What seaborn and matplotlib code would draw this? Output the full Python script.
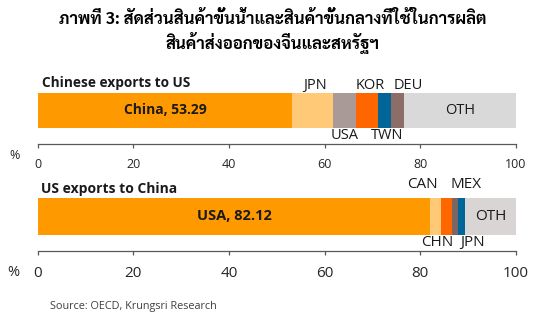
import matplotlib
matplotlib.use("Agg")
import matplotlib.pyplot as plt
import pandas as pd
import seaborn as sns

# Share of upstream / intermediate inputs by source country (%)
cn_partners = ["China", "JPN", "USA", "KOR", "TWN", "DEU", "OTH"]
cn_shares = [53.29, 8.4, 4.9, 4.5, 2.8, 2.6, 23.51]
us_partners = ["USA", "CAN", "CHN", "MEX", "JPN", "OTH"]
us_shares = [82.12, 2.2, 2.3, 1.2, 1.5, 10.68]
x_ticks = [0, 20, 40, 60, 80, 100]

title_lines = ["ภาพที่ 3: สัดส่วนสินค้าขั้นน้ำและสินค้าขั้นกลางที่ใช้ในการผลิต",
               "สินค้าส่งออกของจีนและสหรัฐฯ"]

cn_colors = ["#FF9900", "#FFC978", "#AA9A97", "#FF6600", "#006699", "#8C6D68", "#D9D9D9"]
us_colors = ["#FF9900", "#FFC978", "#FF6600", "#7B6661", "#006699", "#D9D5D5"]

sns.set_style("white")
plt.rcParams["font.family"] = ["Open Sans", "DejaVu Sans"]

W, H = 546, 322
fig = plt.figure(figsize=(W / 100, H / 100), dpi=100)
fig.patch.set_facecolor("white")


def px_axes(x0, x1, y_top, y_bot):
    return fig.add_axes([x0 / W, 1 - y_bot / H, (x1 - x0) / W, (y_bot - y_top) / H])


def stacked_bar(ax, partners, shares, colors, row):
    df = pd.DataFrame({"partner": partners, "share": shares})
    df["end"] = df["share"].cumsum()
    df["start"] = df["end"] - df["share"]
    df["row"] = row
    # longest cumulative segment first so shorter ones sit on top of it
    for i in reversed(range(len(df))):
        sns.barplot(data=df.iloc[[i]], x="end", y="row", orient="h",
                    color=colors[i], saturation=1, width=0.8,
                    errorbar=None, linewidth=0, ax=ax)
    return df


def style_axis(ax, y_bottom, tick_size, pad):
    ax.set_xlim(0, 100)
    ax.set_ylim(y_bottom, -0.4)
    ax.set_xticks(x_ticks)
    ax.set_xticklabels([str(t) for t in x_ticks], fontsize=tick_size, color="#262626")
    ax.set_yticks([])
    ax.set_xlabel("")
    ax.set_ylabel("")
    sns.despine(ax=ax, left=True)
    ax.spines["bottom"].set_color("#595959")
    ax.spines["bottom"].set_linewidth(0.9)
    ax.tick_params(axis="x", direction="out", length=3, width=0.9,
                   color="#595959", pad=pad, bottom=True)
    ax.set_facecolor("none")


def label_segments(ax, df, placement, nudge, y_above, y_below, size):
    for _, r in df.iterrows():
        name = r["partner"]
        if name not in placement:
            continue
        x = (r["start"] + r["end"]) / 2 + nudge.get(name, 0)
        pos = placement[name]
        y = {"above": y_above, "below": y_below, "inside": 0}[pos]
        ax.text(x, y, name, ha="center", va="center", fontsize=size,
                color="#1a1a1a", clip_on=False)


# --- Chinese exports to US ---
ax1 = px_axes(37.5, 516, 92.5, 144.5)
d1 = stacked_bar(ax1, cn_partners, cn_shares, cn_colors, "Chinese exports to US")
style_axis(ax1, 0.756, 9, 7)
lead = d1.iloc[0]
ax1.text((lead["start"] + lead["end"]) / 2, 0, f"{lead['partner']}, {lead['share']:.2f}",
         ha="center", va="center", fontsize=10, fontweight="bold", color="#1a1a1a")
label_segments(ax1, d1,
               {"JPN": "above", "USA": "below", "KOR": "above", "TWN": "below",
                "DEU": "above", "OTH": "inside"},
               {"JPN": 0.5, "KOR": 0.6, "TWN": 0.6, "DEU": 2.3},
               -0.556, 0.567, 10.5)

# --- US exports to China ---
ax2 = px_axes(37.5, 516, 197.5, 250.7)
d2 = stacked_bar(ax2, us_partners, us_shares, us_colors, "US exports to China")
style_axis(ax2, 0.735, 11, 8)
lead = d2.iloc[0]
ax2.text((lead["start"] + lead["end"]) / 2, 0, f"{lead['partner']}, {lead['share']:.2f}",
         ha="center", va="center", fontsize=10.5, fontweight="bold", color="#1a1a1a")
label_segments(ax2, d2,
               {"CAN": "above", "CHN": "below", "MEX": "above", "JPN": "below",
                "OTH": "inside"},
               {"CAN": -2.7, "CHN": -2.0, "MEX": 2.4, "JPN": 2.3},
               -0.667, 0.564, 11)

# panel titles, unit markers, heading and source
fig.text(41.5 / W, 1 - 83 / H, "Chinese exports to US", ha="left", va="center",
         fontsize=9.8, fontweight="bold", color="#1a1a1a")
fig.text(41 / W, 1 - 189 / H, "US exports to China", ha="left", va="center",
         fontsize=10, fontweight="bold", color="#1a1a1a")
fig.text(15 / W, 1 - 155 / H, "%", ha="center", va="center", fontsize=9, color="#262626")
fig.text(13 / W, 1 - 273 / H, "%", ha="center", va="center", fontsize=10.5, color="#262626")

thai = ["Sarabun", "Noto Sans Thai Looped", "DejaVu Sans"]
fig.text(273 / W, 1 - 19.5 / H, title_lines[0], ha="center", va="center",
         fontsize=12, fontweight="bold", family=thai, color="#000000")
fig.text(273 / W, 1 - 42.5 / H, title_lines[1], ha="center", va="center",
         fontsize=12, fontweight="bold", family=thai, color="#000000")
fig.text(50 / W, 1 - 306.5 / H, "Source: OECD, Krungsri Research", ha="left",
         va="center", fontsize=7.8, color="#404040")

fig.savefig("out.png", dpi=100, facecolor="white")
